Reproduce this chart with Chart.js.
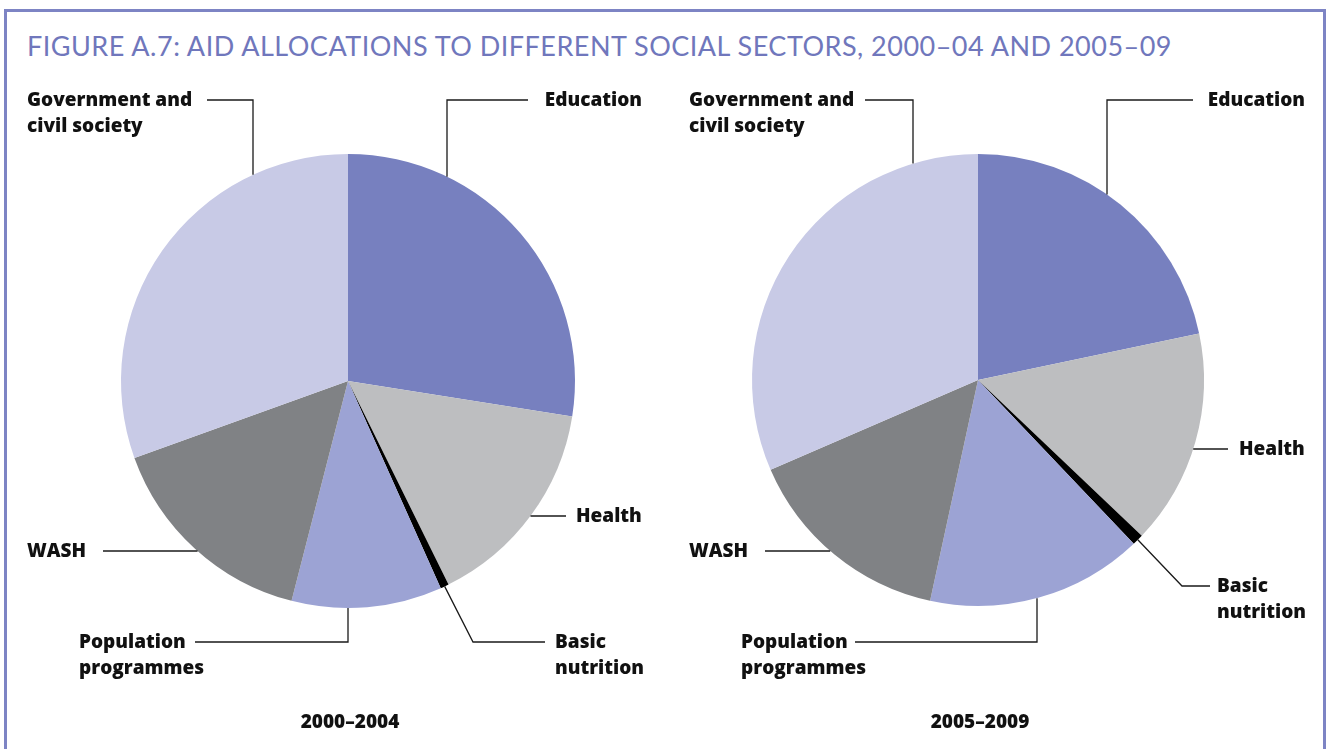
<!DOCTYPE html>
<html>
<head>
<meta charset="utf-8">
<title>Aid allocations to social sectors</title>
<script src="https://cdn.jsdelivr.net/npm/chart.js@4.4.1/dist/chart.umd.min.js"></script>
<style>
  html, body { margin: 0; padding: 0; background: #fff; }
  body { width: 1326px; height: 749px; position: relative; overflow: hidden; font-family: Lato, "Open Sans", sans-serif; }
  .frame { position: absolute; left: 4px; top: 9px; width: 1316px; height: 800px; border: 3px solid #7d84c4; border-bottom: none; }
  .title { position: absolute; left: 27px; top: 29px; font-size: 27px; color: #7077bc; white-space: nowrap; }
  .period { position: absolute; top: 708px; width: 200px; text-align: center; font-family: "Open Sans", sans-serif; font-size: 19px; font-weight: 800; color: #111; }
  canvas { position: absolute; top: 0; }
</style>
</head>
<body>
<div class="frame"></div>
<div class="title" id="title">FIGURE A.7: AID ALLOCATIONS TO DIFFERENT SOCIAL SECTORS, 2000–04 AND 2005–09</div>
<canvas id="pieA" width="663" height="749" style="left:0"></canvas>
<canvas id="pieB" width="663" height="749" style="left:663px"></canvas>
<div class="period" style="left:250px">2000–2004</div>
<div class="period" style="left:880px">2005–2009</div>

<script>
// sector order runs clockwise from twelve o'clock
const sectors = ["Education", "Health", "Basic nutrition", "Population programmes", "WASH", "Government and civil society"];
const share2000_04 = [27.5, 15.2, 0.6, 10.7, 15.5, 30.5];
const share2005_09 = [21.7, 15.4, 0.8, 15.5, 15.1, 31.5];
const sectorColors = ["#7780bf", "#bdbec0", "#000000", "#9ca3d4", "#808285", "#c8cae6"];

// stretch the title across the frame
(function fitTitle() {
  const t = document.getElementById("title");
  const target = 1145;
  const n = t.textContent.length;
  const w = t.getBoundingClientRect().width;
  t.style.letterSpacing = ((target - w) / n).toFixed(3) + "px";
})();

// ─── Leader lines + labels ───────────────────────────────────────────────────
const leaderPlugin = {
  id: "leaders",
  afterDatasetsDraw(chart, args, opts) {
    const ctx = chart.ctx;
    const arcs = chart.getDatasetMeta(0).data;
    const cx = arcs[0].x, cy = arcs[0].y, r = arcs[0].outerRadius;

    ctx.save();
    ctx.strokeStyle = "#1a1a1a";
    ctx.lineWidth = 1.3;
    ctx.fillStyle = "#111";
    ctx.font = "800 19px 'Open Sans', Lato, sans-serif";
    ctx.textBaseline = "middle";

    opts.callouts.forEach(c => {
      let pts;
      if (c.kind === "down" || c.kind === "up") {
        const h = Math.sqrt(Math.max(r * r - (c.lx - cx) ** 2, 0));
        const ry = c.kind === "down" ? cy - h : cy + h;
        pts = [[c.from, c.y], [c.lx, c.y], [c.lx, ry]];
      } else if (c.kind === "side") {
        const w = Math.sqrt(Math.max(r * r - (c.y - cy) ** 2, 0));
        pts = [[c.from, c.y], [cx + c.dir * w, c.y]];
      } else {
        const arc = arcs[c.slice];
        const mid = (arc.startAngle + arc.endAngle) / 2;
        pts = [[cx + r * Math.cos(mid), cy + r * Math.sin(mid)], [c.ex, c.y], [c.from, c.y]];
      }
      ctx.beginPath();
      ctx.moveTo(pts[0][0], pts[0][1]);
      pts.slice(1).forEach(p => ctx.lineTo(p[0], p[1]));
      ctx.stroke();

      ctx.textAlign = c.align || "left";
      c.text.forEach((line, i) => ctx.fillText(line, c.tx, c.y + 1 + i * 26));
    });
    ctx.restore();
  }
};

function drawPie(id, values, pad, callouts) {
  return new Chart(document.getElementById(id), {
    type: "pie",
    data: {
      labels: sectors,
      datasets: [{
        data: values,
        backgroundColor: sectorColors,
        borderWidth: 0,
      }]
    },
    options: {
      responsive: false,
      animation: false,
      devicePixelRatio: 1,
      layout: { padding: pad },
      events: [],
      plugins: {
        legend: { display: false },
        tooltip: { enabled: false },
        leaders: { callouts }
      }
    },
    plugins: [leaderPlugin]
  });
}

drawPie("pieA", share2000_04, { left: 121, right: 88, top: 154, bottom: 141 }, [
  { kind: "down", text: ["Government and", "civil society"], tx: 27, y: 100, from: 207, lx: 253 },
  { kind: "down", text: ["Education"], tx: 642, align: "right", y: 100, from: 528, lx: 447 },
  { kind: "side", text: ["Health"], tx: 576, y: 516, from: 566, dir: 1 },
  { kind: "elbow", slice: 2, text: ["Basic", "nutrition"], tx: 555, y: 642, from: 545, ex: 473 },
  { kind: "up", text: ["Population", "programmes"], tx: 79, y: 642, from: 195, lx: 348 },
  { kind: "side", text: ["WASH"], tx: 27, y: 551, from: 103, dir: -1 },
]);

drawPie("pieB", share2005_09, { left: 89, right: 122, top: 154, bottom: 143 }, [
  { kind: "down", text: ["Government and", "civil society"], tx: 26, y: 100, from: 202, lx: 250 },
  { kind: "down", text: ["Education"], tx: 642, align: "right", y: 100, from: 530, lx: 444 },
  { kind: "side", text: ["Health"], tx: 576, y: 449, from: 565, dir: 1 },
  { kind: "elbow", slice: 2, text: ["Basic", "nutrition"], tx: 554, y: 586, from: 547, ex: 519 },
  { kind: "up", text: ["Population", "programmes"], tx: 78, y: 642, from: 192, lx: 374 },
  { kind: "side", text: ["WASH"], tx: 26, y: 551, from: 102, dir: -1 },
]);
</script>
</body>
</html>
